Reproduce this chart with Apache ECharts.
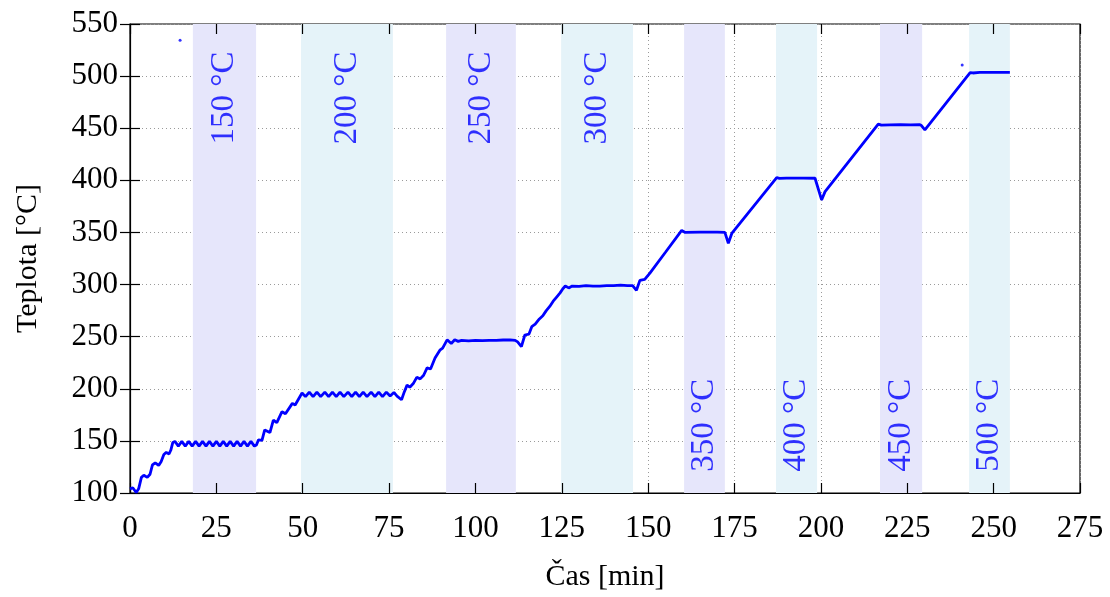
<!DOCTYPE html>
<html>
<head>
<meta charset="utf-8">
<script src="https://cdn.jsdelivr.net/npm/echarts@6/dist/echarts.min.js"></script>
<style>
  html, body { margin: 0; padding: 0; background: #fff; }
  #chart { width: 1110px; height: 597px; }
</style>
</head>
<body>
<div id="chart"></div>
<script>
// Temperature log of the stepped heating run: time [min] and temperature [°C]
const casMin = [
  0, 0.8, 1.8, 2.5, 3.3, 4.0, 5.0, 5.8, 6.5, 7.3, 8.3, 9.0, 9.8, 10.5, 11.3, 11.8, 12.4,
  13, 14, 15, 16, 17, 18, 19, 20, 21, 22, 23, 24, 25, 26, 27, 28, 29, 30, 31, 32, 33, 34, 35, 36,
  36.6, 37.2, 38.2, 39.0, 40.5, 41.5, 42.5, 44.0, 45.0, 47.0, 47.8, 49.8,
  50.8, 51.9, 53.0, 54.1, 55.2, 56.4, 57.5, 58.6, 59.7, 60.8, 61.9, 63.1, 64.2, 65.3, 66.4, 67.5,
  68.6, 69.8, 70.9, 72.0, 73.1, 74.2, 75.3, 76.4, 77.3, 78.6,
  79.4, 80.2, 81.0, 82.0, 83.0, 84.0, 85.0, 86.0, 87.0, 88.3, 89.7, 90.5, 91.8,
  93.0, 94.0, 95.0, 96.0, 98, 100, 102, 104, 106, 108, 110, 111.5, 112.2, 113.3,
  114.3, 115.5, 116.3, 117.3, 118.5, 119.5, 120.5, 121.5, 122.5, 123.5, 124.5, 125.3, 126.0,
  127, 128, 130, 132, 134, 136, 138, 140, 142, 144, 145.5, 146.6, 147.6, 149, 150.5, 155, 159.7,
  160.7, 165, 170, 172.2, 173.2, 174.2, 187.2,
  188, 190, 195, 198.3, 200.2, 201.2, 216.6,
  217.5, 220, 223, 226, 228.5, 229.1, 230.1, 243.2,
  244, 246, 250, 254.7
];
const teplota = [
  104, 105, 100.5, 104, 115, 117, 115, 118, 127, 129, 126.5, 130, 137, 139, 137.5, 141, 148.5,
  149.5, 145, 149.5, 145, 149.5, 145, 149.5, 145, 149.5, 145, 149.5, 145, 149.5, 145, 149.5, 145, 149.5, 145, 149.5, 145, 149.5, 145, 149.5, 145,
  146, 151, 150.5, 160.5, 158, 170, 167.5, 178, 176, 186, 184.5, 196,
  192.5, 196.8, 192.5, 196.8, 192.5, 196.8, 192.5, 196.8, 192.5, 196.8, 192.5, 196.8, 192.5, 196.8, 192.5, 196.8,
  192.5, 196.8, 192.5, 196.8, 192.5, 196.8, 193, 196.5, 193, 189.5,
  197, 203.5, 201.5, 205, 211, 209.5, 213, 220, 219, 229.5, 237, 239, 247,
  243.5, 247, 245.5, 246.5, 246, 246.5, 246.2, 246.5, 246.5, 246.8, 247, 246.5, 245, 240.5,
  251.6, 252.5, 259.6, 262, 267, 270, 275, 279, 284, 288, 292, 296, 298.6,
  296.8, 298.5, 298.3, 299, 298.5, 298.5, 299, 299, 299.5, 299, 299, 294.5, 304, 305, 311, 331, 352,
  350, 350.3, 350.3, 350, 339.6, 349, 402.6,
  401.8, 402.2, 402.2, 402, 381.2, 389.2, 454,
  453, 453.3, 453.5, 453.2, 453.5, 452.5, 448.4, 503.4,
  503, 503.5, 503.6, 503.6
];
// isolated spurious readings
const vykyvy = [[14.5, 534.3], [240.9, 510.7]];

// isothermal holding windows [start, end] in minutes
const useky = [
  [18.2, 36.5], [49.5, 76.1], [91.5, 111.7], [124.8, 145.6],
  [160.4, 172.2], [187.0, 198.9], [217.1, 229.3], [242.9, 254.7]
];
const uzkyPopis = ['150 °C', '200 °C', '250 °C', '300 °C', '350 °C', '400 °C', '450 °C', '500 °C'];
const popisY = [479, 479, 479, 479, 165, 165, 165, 165];

const xTicks = [0, 275, 25];
const yTicks = [100, 550, 50];

const bandColors = ['#e6e6fb', '#e5f3f9'];
const serif = '"Liberation Serif", "DejaVu Serif", serif';
const fs = 31;
const fsBand = 33;

const lineData = casMin.map((t, i) => [t, teplota[i]]);

const markAreas = useky.map((u, i) => [
  { xAxis: u[0], itemStyle: { color: bandColors[i % 2] } },
  { xAxis: u[1] }
]);
const labelData = useky.map((u, i) => ({
  value: [(u[0] + u[1]) / 2, popisY[i]],
  label: { formatter: uzkyPopis[i] }
}));

const gridLine = { show: true, lineStyle: { color: '#9a9a9a', type: [1, 3], width: 1 } };
const tickIn = { show: true, inside: true, length: 10, lineStyle: { color: '#000', width: 1.2 } };

const chart = echarts.init(document.getElementById('chart'), null, { renderer: 'canvas' });
chart.setOption({
  animation: false,
  backgroundColor: '#fff',
  grid: { left: 130, right: 30, top: 24, bottom: 104, show: true, borderColor: '#000', borderWidth: 1.2, backgroundColor: 'transparent' },
  xAxis: [{
    type: 'value', min: xTicks[0], max: xTicks[1], interval: xTicks[2],
    name: 'Čas [min]', nameLocation: 'middle', nameGap: 69,
    nameTextStyle: { fontFamily: serif, fontSize: 30, color: '#000' },
    axisLine: { show: true, lineStyle: { color: '#000', width: 1.2 } },
    axisTick: tickIn,
    axisLabel: { fontFamily: serif, fontSize: fs, color: '#000', margin: 20 },
    splitLine: gridLine
  }, {
    type: 'value', position: 'top', min: xTicks[0], max: xTicks[1], interval: xTicks[2],
    axisLine: { show: false }, axisTick: tickIn, axisLabel: { show: false }, splitLine: { show: false }
  }],
  yAxis: [{
    type: 'value', min: yTicks[0], max: yTicks[1], interval: yTicks[2],
    name: 'Teplota [°C]', nameLocation: 'middle', nameGap: 87, nameRotate: 90,
    nameTextStyle: { fontFamily: serif, fontSize: 30, color: '#000' },
    axisLine: { show: true, lineStyle: { color: '#000', width: 1.2 } },
    axisTick: tickIn,
    axisLabel: { fontFamily: serif, fontSize: fs, color: '#000', margin: 12 },
    splitLine: gridLine
  }, {
    type: 'value', position: 'right', min: yTicks[0], max: yTicks[1], interval: yTicks[2],
    axisLine: { show: false }, axisTick: tickIn, axisLabel: { show: false }, splitLine: { show: false }
  }],
  series: [{
    type: 'line',
    data: lineData,
    showSymbol: false,
    lineStyle: { color: '#0000ff', width: 2.8 },
    z: 5,
    markArea: { silent: true, data: markAreas, z: 0 }
  }, {
    type: 'scatter',
    data: vykyvy,
    symbolSize: 3,
    itemStyle: { color: '#0000ff' },
    z: 6
  }, {
    type: 'scatter',
    data: labelData,
    symbolSize: 0,
    z: 7,
    label: {
      show: true, position: 'inside', rotate: 90,
      fontFamily: serif, fontSize: fsBand, color: '#0000ff'
    }
  }]
});
</script>
</body>
</html>
